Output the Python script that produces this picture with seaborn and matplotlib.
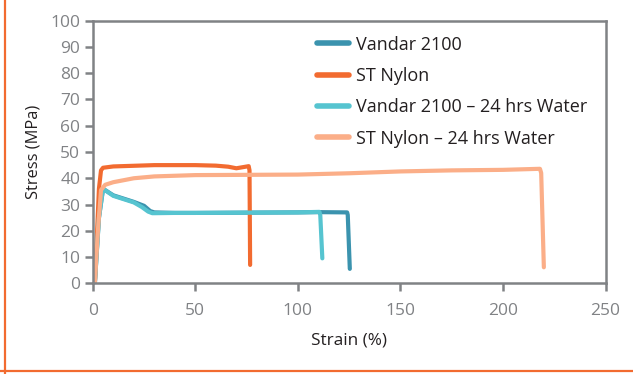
import matplotlib
matplotlib.use("Agg")
import matplotlib.pyplot as plt
import seaborn as sns
import pandas as pd
from matplotlib.lines import Line2D

# ---- data ----
series_names = ["Vandar 2100", "ST Nylon", "Vandar 2100 \u2013 24 hrs Water", "ST Nylon \u2013 24 hrs Water"]

vandar_x = [1, 3, 5, 10, 20, 25, 28, 30, 40, 50, 75, 100, 110, 124, 124.3, 125.3]
vandar_y = [0, 25, 36, 33.5, 31, 29.5, 27.5, 27, 26.8, 26.8, 26.9, 27, 27.1, 27.0, 26.0, 5.5]

nylon_x = [1, 2, 3, 4, 5, 10, 30, 50, 60, 66, 70, 73, 76, 76.4, 76.7]
nylon_y = [0, 18, 36, 43, 44, 44.5, 45, 45, 44.8, 44.4, 43.8, 44.2, 44.6, 43, 7]

vwater_x = [1, 3, 5, 10, 20, 24, 27, 29, 30, 40, 50, 75, 100, 110.5, 110.9, 111.9]
vwater_y = [0, 25, 36, 33.3, 30.8, 29, 27.3, 26.7, 26.7, 26.8, 26.8, 26.9, 27.0, 27.2, 26.0, 9.5]

nwater_x = [1, 2.5, 4, 6, 10, 20, 30, 50, 75, 100, 125, 150, 175, 200, 218, 218.6, 219.9]
nwater_y = [0, 20, 35.5, 37.5, 38.5, 40.0, 40.7, 41.2, 41.3, 41.4, 41.9, 42.6, 43.0, 43.2, 43.6, 42.0, 6.1]

x_ticks = [0, 50, 100, 150, 200, 250]
y_ticks = [0, 10, 20, 30, 40, 50, 60, 70, 80, 90, 100]

colors = ["#3B93AE", "#F26B30", "#56C4D0", "#FBAE88"]

# ---- build long-form table ----
rows = []
for name, xs, ys in zip(series_names,
                        [vandar_x, nylon_x, vwater_x, nwater_x],
                        [vandar_y, nylon_y, vwater_y, nwater_y]):
    for i, (xv, yv) in enumerate(zip(xs, ys)):
        rows.append({"Series": name, "Strain": xv, "Stress": yv, "order": i})
df = pd.DataFrame(rows)

sns.set_theme(style="white")
plt.rcParams["font.family"] = ["Open Sans", "DejaVu Sans"]

fig = plt.figure(figsize=(6.33, 3.74), dpi=100)
ax = fig.add_axes([0.1466, 0.2425, 0.9567 - 0.1466, 0.9447 - 0.2425])

sns.lineplot(data=df, x="Strain", y="Stress", hue="Series", hue_order=series_names,
             palette=colors, sort=False, estimator=None, units="Series",
             linewidth=3, ax=ax, legend=True)
for ln in ax.get_lines():
    ln.set_solid_capstyle("round")
    ln.set_solid_joinstyle("round")

ax.set_xlim(0, 250)
ax.set_ylim(0, 100)
ax.set_xticks(x_ticks)
ax.set_yticks(y_ticks)

spine_c = "#808285"
for s in ax.spines.values():
    s.set_visible(True)
    s.set_color(spine_c)
    s.set_linewidth(1.8)

ax.tick_params(axis="both", which="major", direction="out", length=6, width=1.8,
               color=spine_c, labelcolor="#808285", labelsize=12.5, pad=3)
ax.tick_params(axis="x", pad=8)
ax.tick_params(axis="y", left=True)
ax.tick_params(axis="x", bottom=True)

ax.set_xlabel("Strain (%)", fontsize=12.3, color="#231F20", labelpad=10)
ax.set_ylabel("Stress (MPa)", fontsize=11.8, color="#231F20", labelpad=6)

leg = ax.legend(loc="upper left", bbox_to_anchor=(0.41, 0.998), frameon=False,
                fontsize=13, handlelength=1.75, handletextpad=0.4, labelspacing=0.74,
                borderpad=0.3)
for h in leg.get_lines():
    h.set_linewidth(4)
    h.set_solid_capstyle("round")
for t in leg.get_texts():
    t.set_color("#231F20")

# orange border (left and bottom)
border_c = "#F26B30"
fig.add_artist(Line2D([4.5 / 633, 4.5 / 633], [0, 1], transform=fig.transFigure, color=border_c, lw=1.6))
fig.add_artist(Line2D([0, 1], [3.5 / 374, 3.5 / 374], transform=fig.transFigure, color=border_c, lw=1.6))

fig.savefig("out.png", dpi=100, facecolor="white")
